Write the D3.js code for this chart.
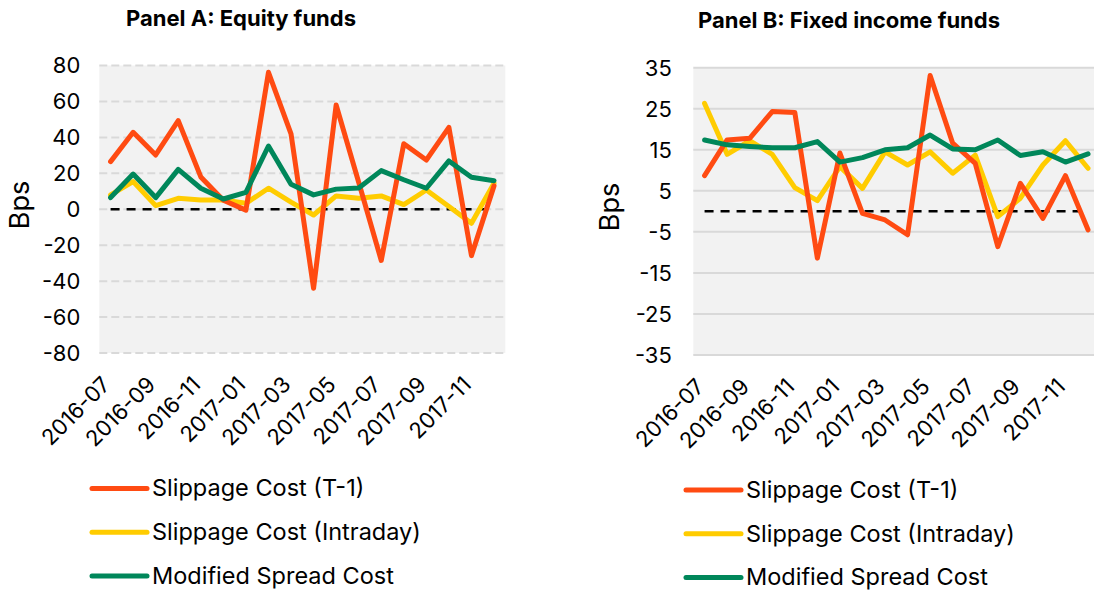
<!DOCTYPE html>
<html>
<head>
<meta charset="utf-8">
<script src="https://cdn.jsdelivr.net/npm/d3@7"></script>
<style>
  body { margin: 0; background: #fff; }
  svg { display: block; font-family: Inter, "Open Sans", sans-serif; }
</style>
</head>
<body>
<div id="chart"></div>
<script>
// months shown on the x axis (every other one is labelled)
var months = ["2016-07","2016-08","2016-09","2016-10","2016-11","2016-12",
              "2017-01","2017-02","2017-03","2017-04","2017-05","2017-06",
              "2017-07","2017-08","2017-09","2017-10","2017-11","2017-12"];

// Panel A: equity funds (bps)
var equityT1       = [26.5, 42.8, 30.2, 49.3, 18, 5, -0.5, 76.2, 41.9, -44, 58, 15, -28.5, 36.5, 27.4, 45.6, -25.8, 13];
var equityIntraday = [8, 15.4, 2, 6.1, 5.2, 5.2, 3.3, 11.7, 4, -3.2, 7.4, 6.1, 7.4, 2.6, 10.7, 1.5, -7.8, 14.5];
var equitySpread   = [6.5, 19.6, 6.5, 22.2, 11.7, 5.7, 9.4, 35.2, 13.9, 8, 11.2, 11.8, 21.5, 16.4, 11.7, 26.9, 17.8, 15.9];
var equityTicks    = [80, 60, 40, 20, 0, -20, -40, -60, -80];

// Panel B: fixed income funds (bps)
var fixedT1        = [8.7, 17.4, 17.8, 24.3, 24.1, -11.4, 14.2, -0.5, -2.1, -5.7, 33.1, 16.6, 11.7, -8.6, 6.8, -1.7, 8.7, -4.5];
var fixedIntraday  = [26.3, 13.9, 17.2, 13.9, 5.8, 2.6, 10.9, 5.6, 14.5, 11.3, 14.5, 9.3, 13.7, -1.3, 3.2, 11.3, 17.2, 10.5];
var fixedSpread    = [17.4, 16.2, 15.8, 15.5, 15.5, 17, 12, 13.1, 15, 15.5, 18.6, 15.2, 15, 17.4, 13.6, 14.5, 12, 14];
var fixedTicks     = [35, 25, 15, 5, -5, -15, -25, -35];

var seriesNames  = ["Slippage Cost (T-1)", "Slippage Cost (Intraday)", "Modified Spread Cost"];
var seriesColors = ["#ff4b12", "#ffcc00", "#00875a"];

var W = 1094, H = 592;

var svg = d3.select("#chart").append("svg")
    .attr("width", W)
    .attr("height", H);

function drawPanel(cfg) {
    var x = d3.scaleBand().domain(months).range([cfg.left, cfg.left + 406]);
    var y = d3.scaleLinear().domain(d3.extent(cfg.ticks)).range([cfg.bottom, cfg.top]);
    var g = svg.append("g");

    // title
    g.append("text")
        .attr("x", cfg.titleX)
        .attr("y", cfg.titleY)
        .attr("text-anchor", "middle")
        .attr("font-size", 22)
        .attr("font-weight", "bold")
        .attr("fill", "#000")
        .text(cfg.title);

    // plot background
    g.append("rect")
        .attr("x", cfg.left).attr("y", cfg.top)
        .attr("width", 406).attr("height", cfg.bottom - cfg.top)
        .attr("fill", "#f2f2f2");

    // gridlines
    g.selectAll(".grid").data(cfg.ticks).enter().append("line")
        .attr("x1", cfg.left).attr("x2", cfg.left + 406)
        .attr("y1", d => y(d)).attr("y2", d => y(d))
        .attr("stroke", "#d9d9d9")
        .attr("stroke-width", 2)
        .attr("stroke-dasharray", cfg.dashedGrid ? "8,4" : null);

    // y tick labels
    g.selectAll(".ytick").data(cfg.ticks).enter().append("text")
        .attr("x", cfg.left - cfg.tickGap)
        .attr("y", d => y(d))
        .attr("dy", "0.36em")
        .attr("text-anchor", "end")
        .attr("font-size", 22)
        .attr("fill", "#000")
        .text(d => d);

    // y axis title
    g.append("text")
        .attr("transform", "translate(" + cfg.labelX + "," + cfg.labelY + ") rotate(-90)")
        .attr("text-anchor", "middle")
        .attr("font-size", 27)
        .attr("fill", "#000")
        .text("Bps");

    // x tick labels, every second month
    g.selectAll(".xtick").data(months.filter((d, i) => i % 2 === 0)).enter().append("text")
        .attr("transform", d => "translate(" + (x(d) + x.bandwidth() / 2 + 1) + "," + (cfg.bottom + 33) + ") rotate(-45)")
        .attr("text-anchor", "end")
        .attr("font-size", 22)
        .attr("fill", "#000")
        .text(d => d);

    // zero line
    var cx = i => x(months[i]) + x.bandwidth() / 2;
    g.append("line")
        .attr("x1", cx(0)).attr("x2", cx(months.length - 1))
        .attr("y1", y(0)).attr("y2", y(0))
        .attr("stroke", "#000")
        .attr("stroke-width", 2.5)
        .attr("stroke-dasharray", "9,7");

    var line = d3.line()
        .x((d, i) => cx(i))
        .y(d => y(d));

    // yellow underneath, then red, green on top
    var order = [1, 0, 2];
    order.forEach(function (k) {
        g.append("path")
            .datum(cfg.series[k])
            .attr("d", line)
            .attr("fill", "none")
            .attr("stroke", seriesColors[k])
            .attr("stroke-width", 5)
            .attr("stroke-linejoin", "round")
            .attr("stroke-linecap", "round");
    });

    // legend
    seriesNames.forEach(function (name, k) {
        var ly = cfg.legendY + k * 43.8;
        g.append("line")
            .attr("x1", cfg.legendX).attr("x2", cfg.legendX + 55)
            .attr("y1", ly).attr("y2", ly)
            .attr("stroke", seriesColors[k])
            .attr("stroke-width", 5)
            .attr("stroke-linecap", "round");
        g.append("text")
            .attr("x", cfg.legendX + 60)
            .attr("y", ly)
            .attr("dy", "0.33em")
            .attr("font-size", 23.5)
            .attr("fill", "#000")
            .text(name);
    });
}

drawPanel({
    title: "Panel A: Equity funds", titleX: 241, titleY: 26,
    left: 99.3, top: 65.5, bottom: 353, tickGap: 19,
    ticks: equityTicks, dashedGrid: true,
    labelX: 29, labelY: 205,
    series: [equityT1, equityIntraday, equitySpread],
    legendX: 92, legendY: 488.5
});

drawPanel({
    title: "Panel B: Fixed income funds", titleX: 849, titleY: 28,
    left: 693.3, top: 67.7, bottom: 355, tickGap: 21.5,
    ticks: fixedTicks, dashedGrid: false,
    labelX: 619, labelY: 207,
    series: [fixedT1, fixedIntraday, fixedSpread],
    legendX: 686, legendY: 490
});
</script>
</body>
</html>
